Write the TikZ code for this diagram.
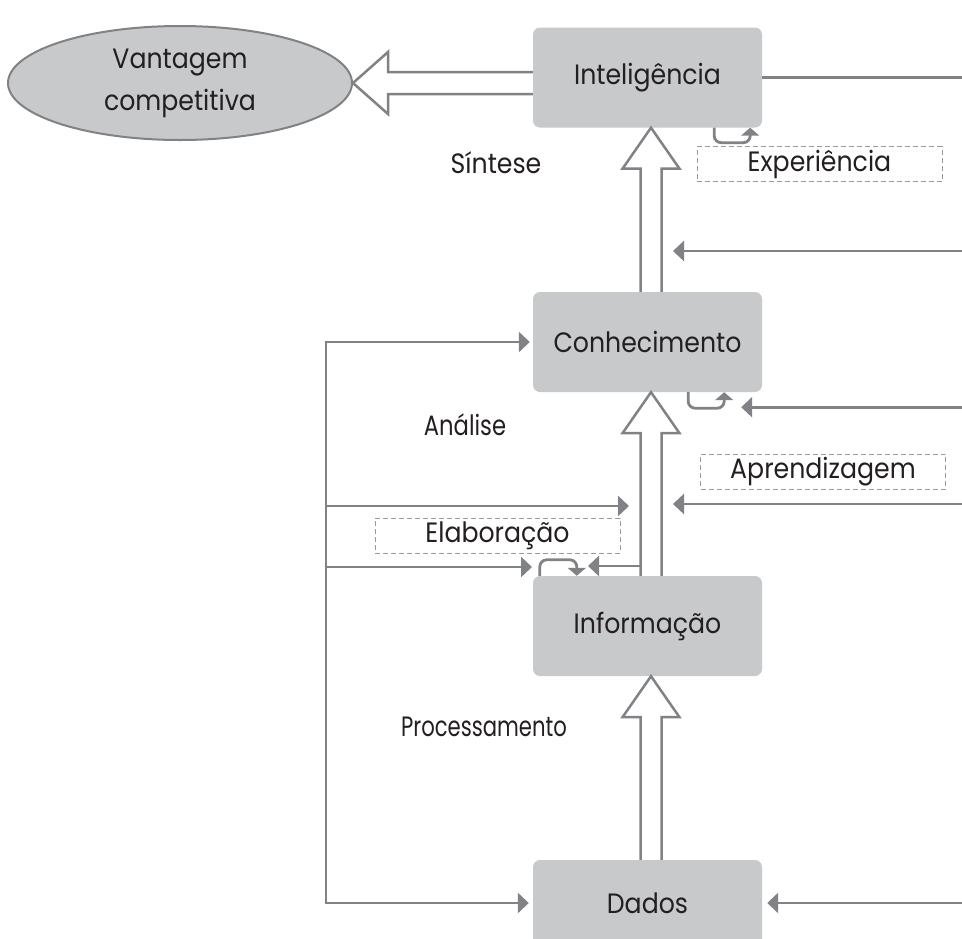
\documentclass[tikz,border=0pt]{standalone}
\usepackage{fontspec}
\setmainfont[FakeStretch=0.9]{Poppins}
\usetikzlibrary{arrows.meta,calc,shapes.geometric}
\definecolor{boxgray}{HTML}{C8C9CB}
\definecolor{linegray}{HTML}{808285}
\definecolor{txt}{HTML}{231F20}
\definecolor{dashgray}{HTML}{9A9A9C}
% hollow block arrow rising from node #1 into node #2
\newcommand\riseto[2]{%
  \draw[hollow] ($(#1.north)+(-7,0)$) -- ($(#2.south)+(-7,41)$)
    -- ($(#2.south)+(-25,41)$) -- ($(#2.south)+(3.5,0)$)
    -- ($(#2.south)+(32,41)$) -- ($(#2.south)+(14,41)$)
    -- ($(#1.north)+(14,0)$);}
\begin{document}
\begin{tikzpicture}[x=1pt,y=-1pt,
  txtfont/.style={text=txt, font=\fontsize{28}{35}\selectfont},
  level/.style={txtfont, fill=boxgray, rounded corners=7pt,
    minimum width=229pt, minimum height=100pt, inner sep=0pt},
  goal/.style={txtfont, font=\fontsize{28}{42}\selectfont, ellipse,
    draw=linegray, line width=2pt, fill=boxgray,
    minimum width=344pt, minimum height=114pt, align=center, inner sep=0pt},
  dashbox/.style={txtfont, draw=dashgray, dash pattern=on 5pt off 3pt,
    line width=1pt, minimum width=245pt, minimum height=35pt, inner sep=0pt},
  lbl/.style={txtfont, inner sep=0pt},
  plain/.style={draw=linegray, line width=2.8pt},
  flow/.style={plain, -{Triangle[length=11pt,width=20pt]}},
  cycle/.style={plain, rounded corners=7pt, -{Triangle[length=8pt,width=18pt]}},
  hollow/.style={draw=linegray, line width=2.5pt, line join=miter},
]
\useasboundingbox (0,0) rectangle (962,938);

% levels of the pyramid
\node[level] (intel) at (647.5,77.5) {Inteligência};
\node[level] (conh)  at (647.5,342)  {Conhecimento};
\node[level] (info)  at (647.5,626)  {Informação};
\node[level, minimum height=86pt] (dados) at (647.5,903) {Dados};
\node[goal]  (goal)  at (180,83) {Vantagem\\competitiva};

% transformation labels
\node[lbl] (syn)  at (496,163) {Síntese};
\node[lbl] (ana)  at (465,425) {\scalebox{0.9}[1]{Análise}};
\node[lbl] (proc) at (484,727) {\scalebox{0.84}[1]{Processamento}};
\node[dashbox] (exp) at (819.5,164)   {Experiência};
\node[dashbox] (apr) at (823,471.5)   {Aprendizagem};
\node[dashbox] (ela) at (497.5,535.5) {Elaboração};

% block arrows
\riseto{dados}{info}
\riseto{info}{conh}
\riseto{conh}{intel}
\draw[hollow] ($(intel.west |- goal.east)+(0,-11)$) -- ($(goal.east)+(35,-11)$)
  -- ($(goal.east)+(35,-31)$) -- (goal.east) -- ($(goal.east)+(35,31)$)
  -- ($(goal.east)+(35,11)$) -- ($(intel.west |- goal.east)+(0,11)$);

% feedback bus on the left
\coordinate (lx) at (326,0);
\coordinate (out1) at (629,506);
\coordinate (out2) at (532,567);
\draw[plain, line cap=rect] (lx |- conh.west) -- (lx |- dados.west);
\draw[flow, shorten >=3pt] (lx |- conh.west) -- (conh.west);
\draw[flow] (lx |- out1) -- (out1);
\draw[flow] (lx |- out2) -- (out2);
\draw[flow, shorten >=4pt] (lx |- dados.west) -- (dados.west);

% inputs from the right
\coordinate (edge) at (966,0);
\coordinate (in1) at (673,251);
\coordinate (in2) at ($(conh.south east)+(-21,15)$);
\coordinate (in3) at (673,504);
\draw[plain] (intel.east) -- (intel.east -| edge);
\draw[flow] (in1 -| edge) -- (in1);
\draw[flow] (in2 -| edge) -- (in2);
\draw[flow] (in3 -| edge) -- (in3);
\draw[flow, shorten >=5pt] (dados.east -| edge) -- (dados.east);

% branch leaving the shaft towards the elaboration loop
\coordinate (sh) at (641,566);
\coordinate (out3) at (588,566);
\draw[flow] (sh) -- (out3);

% self loops
\draw[cycle] ($(intel.south east)+(-48,0)$) -- ++(0,15) -- ++(36,0) -- ++(0,-15);
\draw[cycle] ($(conh.south east)+(-74,0)$) -- ++(0,16) -- ++(36,0) -- ++(0,-16);
\draw[cycle] ($(info.north west)+(7,0)$) -- ++(0,-16) -- ++(37,0) -- ++(0,16);
\end{tikzpicture}
\end{document}
